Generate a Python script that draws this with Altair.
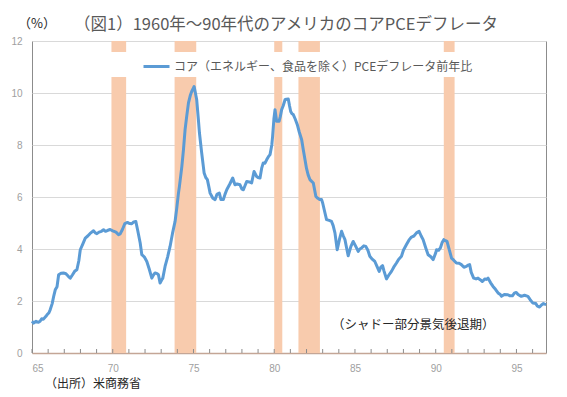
import altair as alt
import pandas as pd

# ---- data ----
years = [
    65.0, 65.1, 65.25, 65.4, 65.5, 65.6, 65.7, 65.85, 65.93, 66.05, 66.13, 66.25, 66.35, 66.44, 66.55,
    66.65, 66.8, 66.95, 67.1, 67.25, 67.37, 67.5, 67.65, 67.78, 67.9, 67.99, 68.15, 68.3, 68.45, 68.6,
    68.81, 68.92, 69.02, 69.15, 69.3, 69.43, 69.55, 69.7, 69.84, 70.0, 70.2, 70.36, 70.46, 70.6, 70.75,
    70.91, 71.05, 71.18, 71.3, 71.43, 71.55, 71.7, 71.8, 71.95, 72.11, 72.25, 72.42, 72.52, 72.62, 72.75,
    72.83, 72.93, 73.02, 73.1, 73.24, 73.4, 73.55, 73.7, 73.86, 73.97, 74.07, 74.13, 74.28, 74.38, 74.48,
    74.58, 74.69, 74.8, 74.89, 75.0, 75.04, 75.12, 75.2, 75.3, 75.37, 75.51, 75.66, 75.76, 75.86, 75.95,
    76.03, 76.2, 76.34, 76.45, 76.5, 76.6, 76.7, 76.85, 76.95, 77.06, 77.25, 77.43, 77.57, 77.7, 77.88,
    78.0, 78.09, 78.2, 78.3, 78.45, 78.6, 78.75, 78.91, 79.0, 79.12, 79.22, 79.32, 79.43, 79.53, 79.64,
    79.74, 79.85, 79.9, 79.98, 80.05, 80.15, 80.3, 80.38, 80.46, 80.55, 80.67, 80.75, 80.87, 80.95, 81.02,
    81.1, 81.18, 81.3, 81.43, 81.55, 81.7, 81.8, 82.0, 82.1, 82.21, 82.32, 82.42, 82.58, 82.7, 82.83,
    82.93, 83.0, 83.1, 83.24, 83.4, 83.55, 83.65, 83.76, 83.9, 84.05, 84.17, 84.28, 84.38, 84.48, 84.58,
    84.75, 84.89, 85.05, 85.2, 85.3, 85.41, 85.55, 85.67, 85.8, 85.92, 86.05, 86.23, 86.35, 86.5, 86.6,
    86.71, 86.8, 86.95, 87.1, 87.26, 87.4, 87.57, 87.7, 87.88, 88.0, 88.19, 88.35, 88.5, 88.65, 88.81,
    88.97, 89.1, 89.22, 89.38, 89.53, 89.7, 89.84, 90.0, 90.05, 90.18, 90.29, 90.4, 90.5, 90.6, 90.7,
    90.85, 90.98, 91.1, 91.28, 91.45, 91.59, 91.75, 91.9, 92.0, 92.1, 92.2, 92.35, 92.5, 92.62, 92.75,
    92.89, 93.05, 93.15, 93.24, 93.4, 93.55, 93.7, 93.86, 94.0, 94.07, 94.25, 94.47, 94.6, 94.75, 94.87,
    94.99, 95.1, 95.3, 95.5, 95.71, 95.85, 96.02, 96.2, 96.3, 96.43, 96.55, 96.67, 96.75, 96.84,
]
core_pce = [
    1.22, 1.15, 1.22, 1.18, 1.22, 1.32, 1.3, 1.4, 1.47, 1.55, 1.67, 1.9, 2.2, 2.43, 2.55,
    3.01, 3.07, 3.08, 3.05, 2.95, 2.88, 3.0, 3.15, 3.2, 3.55, 3.97, 4.2, 4.42, 4.5, 4.6,
    4.7, 4.62, 4.59, 4.65, 4.68, 4.74, 4.68, 4.72, 4.75, 4.7, 4.65, 4.55, 4.58, 4.75, 4.98,
    5.02, 4.98, 4.97, 5.04, 5.06, 4.7, 4.23, 3.78, 3.7, 3.52, 3.25, 2.88, 3.0, 3.08, 3.05,
    3.01, 2.69, 2.8, 2.88, 3.33, 3.7, 4.1, 4.6, 5.06, 5.6, 6.15, 6.41, 7.18, 7.82, 8.59,
    9.1, 9.62, 9.9, 10.06, 10.2, 10.25, 10.0, 9.74, 9.0, 8.46, 7.69, 6.92, 6.75, 6.67, 6.4,
    6.15, 5.95, 5.9, 6.1, 6.12, 6.15, 5.9, 5.9, 6.1, 6.28, 6.5, 6.73, 6.47, 6.5, 6.47,
    6.3, 6.28, 6.45, 6.6, 6.58, 6.54, 6.98, 6.79, 6.75, 6.73, 7.1, 7.31, 7.3, 7.43, 7.55,
    7.63, 8.0, 8.33, 9.0, 9.36, 8.91, 8.91, 9.1, 9.36, 9.5, 9.74, 9.76, 9.77, 9.5, 9.29,
    9.2, 9.17, 9.0, 8.78, 8.5, 8.2, 7.82, 7.1, 6.85, 6.67, 6.6, 6.54, 6.02, 5.95, 5.9,
    5.9, 5.77, 5.5, 5.13, 5.1, 5.06, 4.9, 4.62, 3.97, 4.4, 4.68, 4.5, 4.36, 4.05, 3.74,
    4.1, 4.29, 4.1, 3.91, 4.0, 4.04, 4.12, 4.1, 3.95, 3.72, 3.62, 3.52, 3.35, 3.14, 3.3,
    3.36, 3.15, 2.85, 3.0, 3.14, 3.3, 3.46, 3.6, 3.72, 3.95, 4.17, 4.35, 4.46, 4.5, 4.62,
    4.68, 4.5, 4.36, 4.05, 3.78, 3.7, 3.59, 3.85, 3.97, 3.95, 4.04, 4.25, 4.36, 4.32, 4.29,
    3.95, 3.65, 3.58, 3.46, 3.45, 3.4, 3.3, 3.33, 3.38, 3.4, 3.1, 2.88, 2.85, 2.88, 2.82,
    2.75, 2.85, 2.83, 2.88, 2.7, 2.56, 2.45, 2.31, 2.25, 2.18, 2.25, 2.24, 2.2, 2.2, 2.3,
    2.33, 2.25, 2.18, 2.22, 2.18, 2.05, 1.92, 1.9, 1.8, 1.77, 1.85, 1.9, 1.88, 1.86,
]
recession_start = [69.92, 73.83, 80.0, 81.5, 90.5]
recession_end = [70.83, 75.17, 80.5, 82.83, 91.17]
x_tick_labels = [65, 70, 75, 80, 85, 90, 95]
x_minor_ticks = list(range(65, 97))
y_ticks = [0, 2, 4, 6, 8, 10, 12]

series_name = "コア（エネルギー、食品を除く）PCEデフレータ前年比"
title_text = "（図1）1960年～90年代のアメリカのコアPCEデフレータ"
unit_text = "（%）"
source_text = "（出所）米商務省"
note_text = "（シャドー部分景気後退期）"

FONT = "Noto Sans CJK JP"
X_DOMAIN = [65, 96.83]
Y_DOMAIN = [0, 12]

line_df = pd.DataFrame({"year": years, "value": core_pce, "series": series_name})
rec_df = pd.DataFrame({"start": recession_start, "end": recession_end})
tick_df = pd.DataFrame({"year": x_minor_ticks})

x_scale = alt.Scale(domain=X_DOMAIN, nice=False, zero=False)
y_scale = alt.Scale(domain=Y_DOMAIN, nice=False)

x_axis = alt.Axis(values=x_tick_labels, grid=False, ticks=False, domain=True,
                  domainColor="#C4A696", domainWidth=1.5, labelPadding=10,
                  labelColor="#A0A0A0", labelFontSize=10, labelFont="Liberation Sans", title=None)
y_axis = alt.Axis(values=y_ticks, grid=True, gridColor="#D9D9D9", gridWidth=1, ticks=False,
                  domain=False, labelPadding=10, labelColor="#A0A0A0", labelFontSize=10,
                  labelFont="Liberation Sans", title=None)

bars = alt.Chart(rec_df).mark_rect(color="#F8CBAD").encode(
    x=alt.X("start:Q", scale=x_scale, axis=x_axis),
    x2="end:Q",
    y=alt.datum(0, scale=y_scale, axis=y_axis),
    y2=alt.datum(12),
)

legend_box = alt.Chart(pd.DataFrame({"a": [0]})).mark_rect(color="white").encode(
    x=alt.value(76), x2=alt.value(484), y=alt.value(11), y2=alt.value(36)
)

ticks = alt.Chart(tick_df).mark_rule(color="#8C8C8C", strokeWidth=1).encode(
    x=alt.X("year:Q", scale=x_scale),
    y=alt.value(308), y2=alt.value(312),
)

line = alt.Chart(line_df).mark_line(strokeWidth=3, strokeJoin="round").encode(
    x=alt.X("year:Q", scale=x_scale),
    y=alt.Y("value:Q", scale=y_scale),
    color=alt.Color("series:N",
                    scale=alt.Scale(domain=[series_name], range=["#5B9BD5"]),
                    legend=alt.Legend(title=None, orient="none", legendX=110, legendY=11,
                                      symbolType="stroke", symbolSize=676, symbolStrokeWidth=3,
                                      labelFontSize=12, labelFont=FONT, labelColor="#595959",
                                      labelLimit=0, padding=0, labelOffset=3)),
)

def text_layer(txt, x, y, size, color, align="left"):
    return alt.Chart(pd.DataFrame({"t": [txt]})).mark_text(
        font=FONT, fontSize=size, color=color, align=align, baseline="middle"
    ).encode(text="t:N", x=alt.value(x), y=alt.value(y))

title = text_layer(title_text, 42, -16.5, 16.5, "#595959")
unit = text_layer(unit_text, -14, -17, 13, "#262626")
source = text_layer(source_text, 13, 342.5, 12, "#262626")
note = text_layer(note_text, 300, 284, 12.5, "#262626")

chart = alt.layer(bars, legend_box, ticks, line, title, unit, source, note).properties(
    width=514, height=312,
    padding={"left": 24, "top": 33, "right": 13, "bottom": 36},
    autosize=alt.AutoSizeParams(type="none"),
    background="white",
).configure_view(stroke="#8C8C8C", strokeWidth=1)

chart.save("out.html", embed_options={"renderer": "svg", "actions": False})
